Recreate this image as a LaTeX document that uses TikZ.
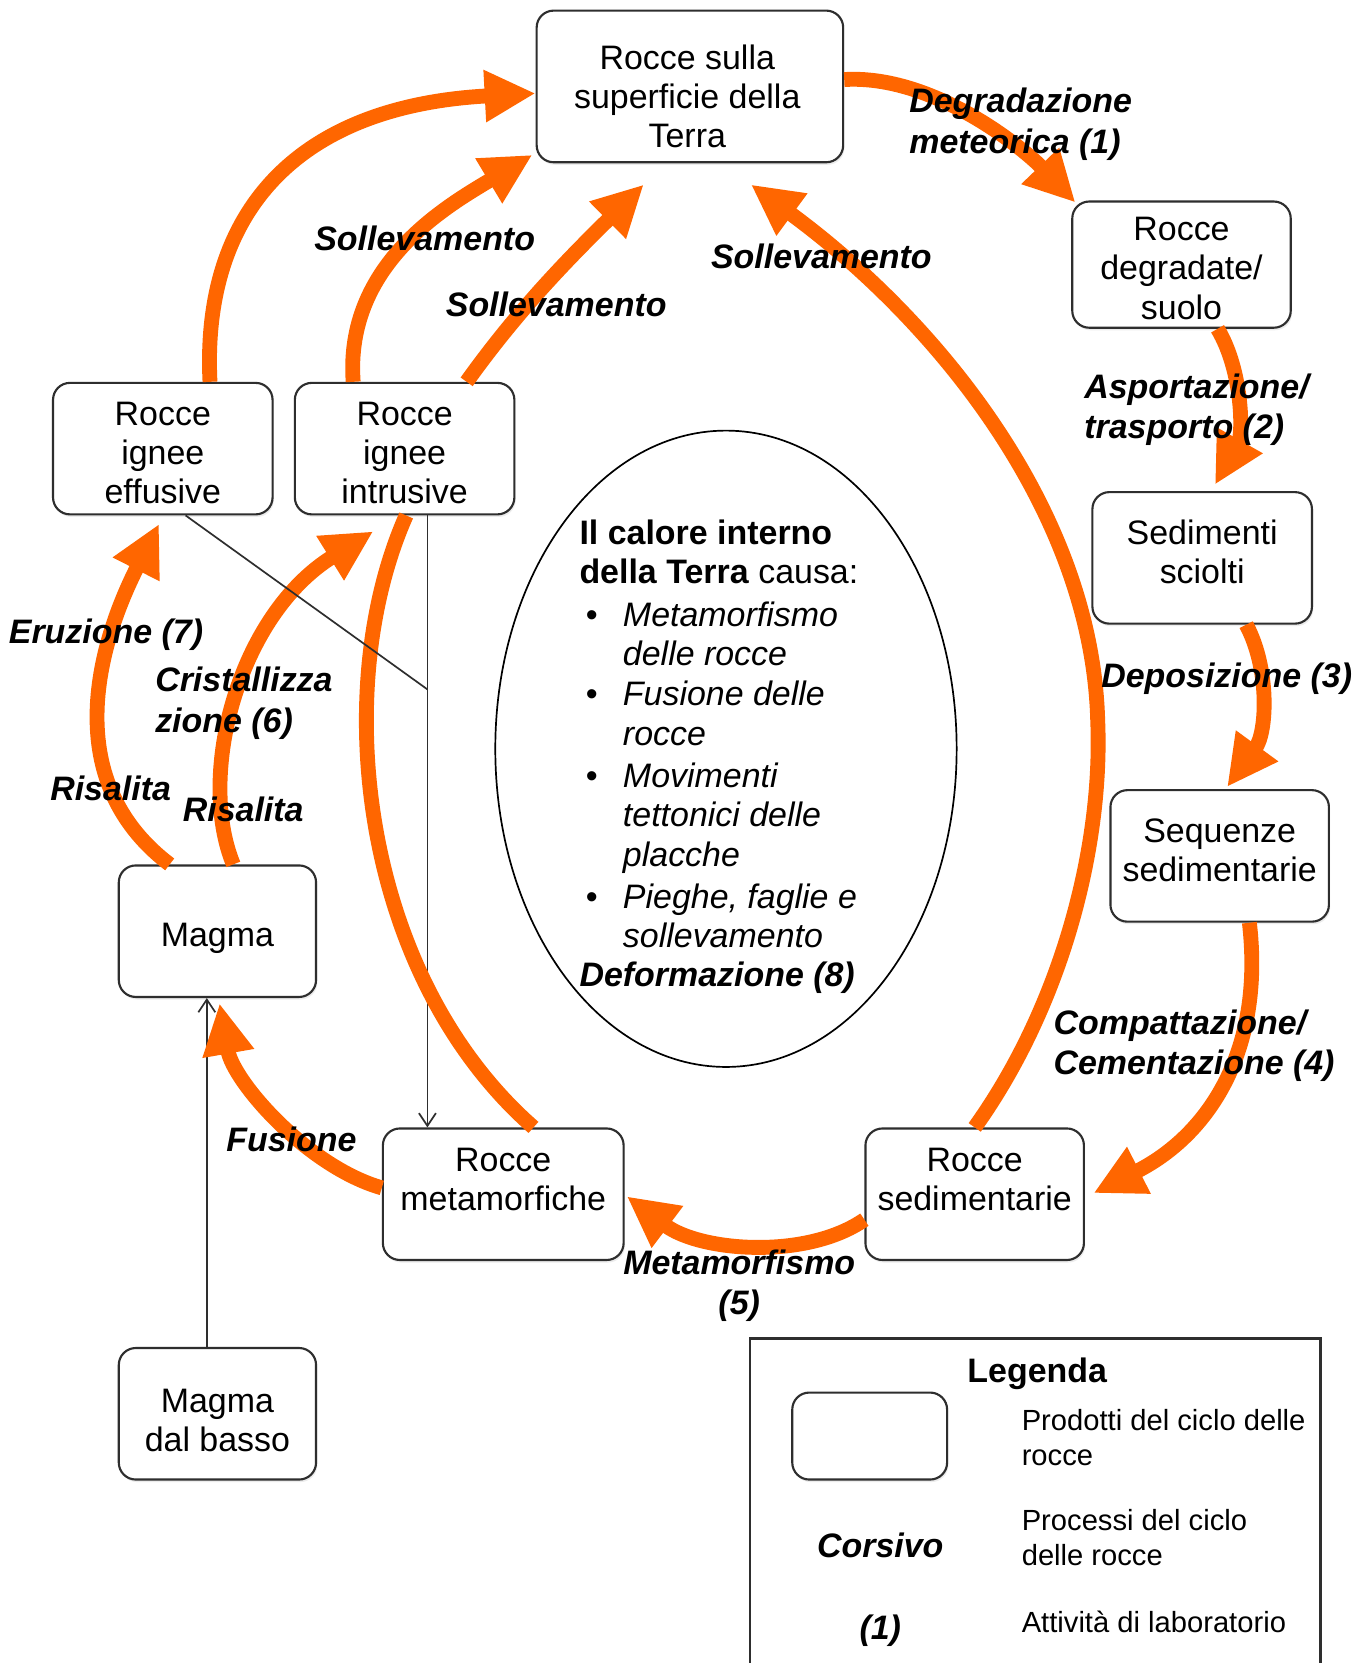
\documentclass[tikz,border=0pt]{standalone}
\usepackage{fontspec}
\setmainfont{Liberation Sans}
\usetikzlibrary{arrows.meta,shadows,calc,shapes.geometric}
\definecolor{org}{HTML}{FF6600}
\definecolor{edge}{HTML}{2E2E2E}
\begin{document}
\begin{tikzpicture}[x=0.5pt,y=-0.5pt,
  every node/.style={font=\fontsize{16pt}{18.5pt}\selectfont},
  box/.style={draw=edge, line width=1pt, rounded corners=8pt, fill=white, inner sep=0pt,
    drop shadow={opacity=0.15, shadow xshift=0.6pt, shadow yshift=-1.2pt}},
  txt/.style={inner sep=0pt, align=center},
  lab/.style={inner sep=0pt, align=left, font=\fontsize{16pt}{19pt}\selectfont\bfseries\itshape},
  legtext/.style={inner sep=0pt, anchor=west, align=left, font=\fontsize{13.75pt}{16.5pt}\selectfont},
  flow/.style={draw=org, line width=7pt, -{Triangle[length=24pt,width=23pt]}},
  band/.style={draw=org, line width=7pt},
  blackline/.style={draw=edge, line width=0.8pt},
  blackarrow/.style={draw=edge, line width=0.8pt, -{Straight Barb[length=6pt,width=8pt]}},
]
\fill[white] (0,0) rectangle (1290,1568);
\useasboundingbox (0,0) rectangle (1290,1568);

% ---------- boxes ----------
\node[box, minimum width=144.5pt, minimum height=71.5pt] (sup) at (650.5,81.5) {};
\node[box, minimum width=103pt, minimum height=59.5pt] (deg) at (1114,249.5) {};
\node[box, minimum width=103.5pt, minimum height=62pt] (sed) at (1133.5,526) {};
\node[box, minimum width=103pt, minimum height=62pt] (seq) at (1150,807) {};
\node[box, minimum width=103pt, minimum height=62pt] (rsed) at (919,1126) {};
\node[box, minimum width=113.5pt, minimum height=62pt] (met) at (474.5,1126) {};
\node[box, minimum width=93pt, minimum height=62pt] (mag) at (205,878) {};
\node[box, minimum width=93pt, minimum height=62pt] (mdb) at (205,1333) {};
\node[box, minimum width=103.5pt, minimum height=62pt] (eff) at (153.5,423) {};
\node[box, minimum width=103.5pt, minimum height=62pt] (int) at (381.5,423) {};

\node[txt] (tsup) at (648,91) {Rocce sulla\\superficie della\\Terra};
\node[txt] (tdeg) at (1114,253) {Rocce\\degradate/\\suolo};
\node[txt] (tsed) at (1133.5,520) {Sedimenti\\sciolti};
\node[txt] (tseq) at (1150,802) {Sequenze\\sedimentarie};
\node[txt] (trsed) at (919,1112) {Rocce\\sedimentarie};
\node[txt] (tmet) at (474.5,1112) {Rocce\\metamorfiche};
\node[txt] (tmag) at (205,885) {Magma};
\node[txt] (tmdb) at (205,1339) {Magma\\dal basso};
\node[txt] (teff) at (153.5,427) {Rocce\\ignee\\effusive};
\node[txt] (tint) at (381.5,427) {Rocce\\ignee\\intrusive};

% ---------- central ellipse ----------
\node[draw=black, line width=0.8pt, ellipse, minimum width=217.5pt, minimum height=300pt, inner sep=0pt] (ell) at (684.5,706) {};
\node[anchor=north west, inner sep=0pt, align=left] (heat) at (546,490) {%
\textbf{Il calore interno}\\
\textbf{della Terra} causa:\\[1.5pt]
\makebox[20.5pt][l]{\hspace{3pt}•}\textit{Metamorfismo}\\
\hspace*{20.5pt}\textit{delle rocce}\\[0.5pt]
\makebox[20.5pt][l]{\hspace{3pt}•}\textit{Fusione delle}\\
\hspace*{20.5pt}\textit{rocce}\\[1.5pt]
\makebox[20.5pt][l]{\hspace{3pt}•}\textit{Movimenti}\\
\hspace*{20.5pt}\textit{tettonici delle}\\
\hspace*{20.5pt}\textit{placche}\\[1.5pt]
\makebox[20.5pt][l]{\hspace{3pt}•}\textit{Pieghe, faglie e}\\
\hspace*{20.5pt}\textit{sollevamento}\\
\textbf{\textit{Deformazione (8)}}};

% ---------- coordinates ----------
\coordinate (j) at (403,650);
\coordinate (t11) at ($(sup.south)+(-43.5,20)$);
\coordinate (t12) at ($(sup.south)+(57.5,20)$);
\coordinate (t10) at ($(sup.south west)+(-3,-8)$);

% ---------- thin black connectors ----------
\draw[blackarrow] ($(int.south)+(21.5,0)$) -- ($(met.north)+(-71.5,0)$);
\draw[blackarrow] ($(mdb.north)+(-10,0)$) -- ($(mag.south)+(-10,0)$);

% ---------- orange flows ----------
\draw[flow] ($(sup.east)+(0,-6.5)$) .. controls (880,70) and (965,140) .. ($(deg.north west)+(4,2)$);
\draw[flow] ($(deg.south)+(34,0)$) .. controls (1172,350) and (1172,410) .. ($(sed.north)+(12,-6)$);
\draw[flow] ($(sed.south)+(41.5,0)$) .. controls (1197,630) and (1195,690) .. ($(seq.north)+(7,-2)$);
\draw[flow] ($(seq.south)+(28,0)$) .. controls (1192,990) and (1140,1070) .. ($(rsed.east)+(8,-1)$);
\draw[flow] ($(rsed.west)+(0,24)$) .. controls (760,1188) and (660,1180) .. ($(met.east)+(2,2)$);
\draw[flow] ($(met.west)+(0,-6)$) .. controls (290,1100) and (220,1020) .. ($(mag.south)+(2,5)$);
\draw[flow] ($(mag.north)+(-45,0)$) .. controls (40,724) and (110,573) .. ($(eff.south)+(-3.5,8)$);
\draw[flow] ($(mag.north)+(15,0)$) .. controls (185,730) and (225,580) .. ($(int.south)+(-29.5,15)$);
\draw[flow] ($(eff.north)+(44.5,0)$) .. controls (190,200) and (280,100) .. ($(sup.west)+(0,6.5)$);
\draw[flow] ($(int.north)+(-48.5,0)$) .. controls (325,250) and (420,195) .. (t10);
\draw[flow] ($(int.north)+(58.5,0)$) .. controls (490,290) and (540,240) .. (t11);
\draw[flow] (rsed.north) .. controls (1000,950) and (1040,800) .. (1035,680) .. controls (1030,480) and (880,300) .. (t12);
\draw[band] ($(int.south)+(1.5,0)$) .. controls (310,650) and (340,920) .. ($(met.north)+(28.5,0)$);

\draw[blackline] ($(eff.south)+(21.5,0)$) -- (j);

% ---------- process labels ----------
\node[lab, anchor=west] (l1) at (857,117) {Degradazione\\meteorica (1)};
\node[lab, anchor=west] (l2) at (1022,386) {Asportazione/\\trasporto (2)};
\node[lab, anchor=west] (l3) at (1038,640) {Deposizione (3)};
\node[lab, anchor=west] (l4) at (993,986) {Compattazione/\\Cementazione (4)};
\node[lab, align=center] (l5) at (697,1212) {Metamorfismo\\(5)};
\node[lab, anchor=west] (l6) at (213,1074) {Fusione};
\node[lab, anchor=west] (l7a) at (47,743) {Risalita};
\node[lab, anchor=west] (l7b) at (172,763) {Risalita};
\node[lab, anchor=west] (l8) at (146,663) {Cristallizza\\zione (6)};
\node[lab, anchor=west] (l9) at (8,598) {Eruzione (7)};
\node[lab, anchor=west] (s1) at (296,225) {Sollevamento};
\node[lab, anchor=west] (s2) at (420,287) {Sollevamento};
\node[lab, anchor=west] (s3) at (670,242) {Sollevamento};

% ---------- legend ----------
\draw[edge, line width=1pt] (707,1568) -- (707,1262) -- (1245,1262) -- (1245,1568);
\node[inner sep=0pt, font=\fontsize{16pt}{18.5pt}\selectfont\bfseries] (legt) at (978,1295) {Legenda};
\node[box, minimum width=73pt, minimum height=41pt] (legbox) at (820,1354) {};
\node[legtext] (leg1) at (963,1355) {Prodotti del ciclo delle\\rocce};
\node[lab] (leg2a) at (830,1457) {Corsivo};
\node[legtext] (leg2) at (963,1450) {Processi del ciclo\\delle rocce};
\node[lab] (leg3a) at (830,1538) {(1)};
\node[legtext] (leg3) at (963,1529) {Attività di laboratorio};
\end{tikzpicture}
\end{document}
